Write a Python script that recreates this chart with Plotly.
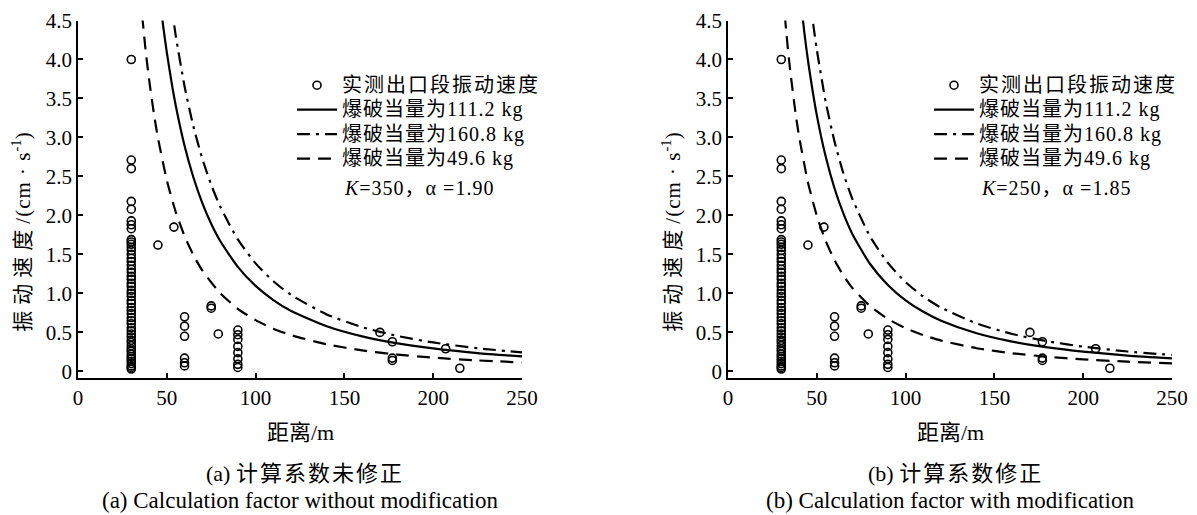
import plotly.graph_objects as go

W, H = 1197, 515
OFF = 8  # page body margin of the browser (figure is drawn 8 px right/down)

# ---------------- data ----------------
# measured exit-section vibration velocity (same in both panels)
meas_dist = ([30] * 51 +
             [45, 54] +
             [60, 60, 60, 60, 60, 60] +
             [75, 75, 79] +
             [90, 90, 90, 90, 90, 90, 90, 90] +
             [170, 177, 177, 177, 207, 215])
meas_vel = ([4.00, 2.71, 2.60, 2.18, 2.08, 1.93, 1.88, 1.83,
             1.69, 1.66, 1.63, 1.59, 1.55, 1.50, 1.45, 1.41, 1.36, 1.31, 1.27,
             1.22, 1.18, 1.13, 1.09, 1.04, 1.00, 0.96, 0.91, 0.87, 0.82, 0.78,
             0.74, 0.69, 0.65, 0.61, 0.56, 0.52, 0.48, 0.44, 0.40, 0.37, 0.33,
             0.29, 0.26, 0.22, 0.19, 0.16, 0.13, 0.10, 0.07, 0.05, 0.03] +
            [1.62, 1.85] +
            [0.70, 0.58, 0.45, 0.17, 0.11, 0.07] +
            [0.84, 0.81, 0.48] +
            [0.53, 0.47, 0.41, 0.32, 0.24, 0.16, 0.09, 0.05] +
            [0.50, 0.38, 0.17, 0.14, 0.29, 0.04])

# (a) K=350, alpha=1.90
a_q111_x = [46, 48, 50, 53, 55, 60, 65, 70, 75, 80, 90, 100, 110, 120, 140, 160, 180, 200, 225, 250]
a_q111_y = [4.795, 4.422, 4.092, 3.663, 3.414, 2.894, 2.486, 2.159, 1.894, 1.675, 1.340, 1.096,
            0.915, 0.775, 0.579, 0.449, 0.359, 0.294, 0.235, 0.192]
a_q160_x = [52, 55, 60, 65, 70, 75, 80, 90, 100, 110, 120, 140, 160, 180, 200, 225, 250]
a_q160_y = [4.798, 4.313, 3.656, 3.140, 2.728, 2.393, 2.117, 1.692, 1.385, 1.156, 0.980, 0.731,
            0.567, 0.453, 0.371, 0.297, 0.243]
a_q49_x = [35, 38, 40, 43, 45, 50, 55, 60, 65, 70, 80, 90, 100, 110, 120, 140, 160, 180, 200, 225, 250]
a_q49_y = [4.831, 4.132, 3.748, 3.267, 2.997, 2.453, 2.047, 1.735, 1.490, 1.294, 1.004, 0.803,
           0.657, 0.548, 0.465, 0.347, 0.269, 0.215, 0.176, 0.141, 0.115]

# (b) K=250, alpha=1.85
b_q111_x = [41, 43, 45, 50, 55, 60, 65, 70, 80, 90, 100, 110, 120, 140, 160, 180, 200, 225, 250]
b_q111_y = [4.743, 4.343, 3.993, 3.286, 2.755, 2.345, 2.022, 1.763, 1.377, 1.108, 0.911, 0.764,
            0.650, 0.489, 0.382, 0.307, 0.253, 0.203, 0.167]
b_q160_x = [46, 48, 50, 55, 60, 65, 70, 80, 90, 100, 110, 120, 140, 160, 180, 200, 225, 250]
b_q160_y = [4.814, 4.449, 4.126, 3.459, 2.945, 2.539, 2.214, 1.729, 1.391, 1.144, 0.959, 0.817,
            0.614, 0.480, 0.386, 0.317, 0.255, 0.210]
b_q49_x = [31, 33, 35, 38, 40, 45, 50, 55, 60, 65, 70, 80, 90, 100, 110, 120, 140, 160, 180, 200, 225, 250]
b_q49_y = [4.835, 4.306, 3.863, 3.317, 3.017, 2.426, 1.997, 1.674, 1.425, 1.229, 1.071, 0.837,
           0.673, 0.554, 0.464, 0.395, 0.297, 0.232, 0.187, 0.154, 0.124, 0.102]

x_ticks = [0, 50, 100, 150, 200, 250]
x_tick_text = ["0", "50", "100", "150", "200", "250"]
y_ticks = [0, 0.5, 1.0, 1.5, 2.0, 2.5, 3.0, 3.5, 4.0, 4.5]
y_tick_text = ["0", "0.5", "1.0", "1.5", "2.0", "2.5", "3.0", "3.5", "4.0", "4.5"]

name_meas = "实测出口段振动速度"
name_111 = "爆破当量为111.2 kg"
name_160 = "爆破当量为160.8 kg"
name_49 = "爆破当量为49.6 kg"
param_a = "<i>K</i>=350，α =1.90"
param_b = "<i>K</i>=250，α =1.85"
x_title = "距离/m"
y_title_cn = "振动速度"
y_title_unit = "/(cm · s"
y_title_sup = "-1"
cap_a_tag, cap_a_cn = "(a) ", "计算系数未修正"
cap_a_en = "(a) Calculation factor without modification"
cap_b_tag, cap_b_cn = "(b) ", "计算系数修正"
cap_b_en = "(b) Calculation factor with modification"

# ---------------- figure ----------------
FONT = "Liberation Serif, Noto Sans CJK SC, serif"
fig = go.Figure()


def px_x(p):
    return (p - OFF) / W


def px_y(p):
    return 1 - (p - OFF) / H


def styled(t, size, spacing):
    return '<span style="font-size:%dpx;letter-spacing:%dpx">%s</span>' % (size, spacing, t)


DASH = "13px,8px"
DASHDOT = "13px,6px,3px,6px"

panels = [
    ("x", "y", "legend", a_q111_x, a_q111_y, a_q160_x, a_q160_y, a_q49_x, a_q49_y),
    ("x2", "y2", "legend2", b_q111_x, b_q111_y, b_q160_x, b_q160_y, b_q49_x, b_q49_y),
]
for xa, ya, lg, sx, sy, ddx, ddy, dx, dy in panels:
    fig.add_trace(go.Scatter(x=meas_dist, y=meas_vel, mode="markers",
                             name=styled(name_meas, 20, 2),
                             xaxis=xa, yaxis=ya, legend=lg, cliponaxis=False,
                             marker=dict(symbol="circle-open", size=8, color="black",
                                         line=dict(width=1.6, color="black"))))
    fig.add_trace(go.Scatter(x=sx, y=sy, mode="lines", name=styled(name_111, 20, 1),
                             xaxis=xa, yaxis=ya, legend=lg,
                             line=dict(color="black", width=2.2, shape="spline", smoothing=0.6)))
    fig.add_trace(go.Scatter(x=ddx, y=ddy, mode="lines", name=styled(name_160, 20, 1),
                             xaxis=xa, yaxis=ya, legend=lg,
                             line=dict(color="black", width=2.2, dash=DASHDOT,
                                       shape="spline", smoothing=0.6)))
    fig.add_trace(go.Scatter(x=dx, y=dy, mode="lines", name=styled(name_49, 20, 1),
                             xaxis=xa, yaxis=ya, legend=lg,
                             line=dict(color="black", width=2.2, dash=DASH,
                                       shape="spline", smoothing=0.6)))

ax_common = dict(range=[0, 250], tickmode="array", tickvals=x_ticks, ticktext=x_tick_text,
                 ticks="inside", ticklen=5, tickwidth=1.5, tickcolor="black", automargin=False,
                 showline=True, linecolor="black", linewidth=1.5, showgrid=False,
                 zeroline=False, tickfont=dict(family=FONT, size=21, color="black"))
ay_common = dict(range=[-0.085, 4.5], tickmode="array", tickvals=y_ticks, ticktext=y_tick_text,
                 ticks="inside", ticklen=5, tickwidth=1.5, tickcolor="black", automargin=False,
                 showline=True, linecolor="black", linewidth=1.5, showgrid=False,
                 zeroline=False, tickfont=dict(family=FONT, size=21, color="black"))

y_dom = [px_y(378), px_y(20.5)]
leg_common = dict(xanchor="left", yanchor="top", bgcolor="rgba(0,0,0,0)",
                  font=dict(family=FONT, size=16.5, color="black"),
                  tracegroupgap=0, itemwidth=40)
fig.update_layout(
    width=W, height=H, autosize=False,
    margin=dict(l=0, r=0, t=0, b=0, autoexpand=False),
    paper_bgcolor="white", plot_bgcolor="white",
    font=dict(family=FONT, color="black", size=19),
    xaxis=dict(domain=[px_x(78), px_x(522)], anchor="y", **ax_common),
    yaxis=dict(domain=y_dom, anchor="x", **ay_common),
    xaxis2=dict(domain=[px_x(728), px_x(1172)], anchor="y2", **ax_common),
    yaxis2=dict(domain=y_dom, anchor="x2", **ay_common),
    legend=dict(x=px_x(292), y=px_y(68), **leg_common),
    legend2=dict(x=px_x(929), y=px_y(68), **leg_common),
    showlegend=True,
)

y_title = (styled(y_title_cn, 21, 6) + styled(y_title_unit, 21, 1) +
           "<sup>" + y_title_sup + "</sup>)")
ann = []
for cx, ycx, kx, ptxt, c_tag, c_cn, c_en in [
        (300, 21.7, 342, param_a, cap_a_tag, cap_a_cn, cap_a_en),
        (950, 671.7, 979, param_b, cap_b_tag, cap_b_cn, cap_b_en)]:
    ann.append(dict(text=y_title, x=px_x(ycx), y=px_y(232), xref="paper", yref="paper",
                    textangle=-90, showarrow=False, xanchor="center", yanchor="middle",
                    font=dict(family=FONT, size=21, color="black")))
    ann.append(dict(text=x_title, x=px_x(cx), y=px_y(432), xref="paper", yref="paper",
                    showarrow=False, xanchor="center", yanchor="middle",
                    font=dict(family=FONT, size=22, color="black")))
    ann.append(dict(text=c_tag + styled(c_cn, 22, 2), x=px_x(cx + 5), y=px_y(473),
                    xref="paper", yref="paper", showarrow=False, xanchor="center",
                    yanchor="middle", font=dict(family=FONT, size=22, color="black")))
    ann.append(dict(text=c_en, x=px_x(cx), y=px_y(500), xref="paper", yref="paper",
                    showarrow=False, xanchor="center", yanchor="middle",
                    font=dict(family=FONT, size=23, color="black")))
    ann.append(dict(text=styled(ptxt, 20, 1), x=px_x(kx), y=px_y(188), xref="paper",
                    yref="paper", showarrow=False, xanchor="left", yanchor="middle",
                    font=dict(family=FONT, size=20, color="black")))
fig.update_layout(annotations=ann)

fig.write_html("out.html")
